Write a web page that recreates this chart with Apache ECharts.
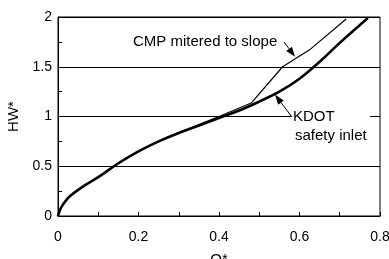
<!DOCTYPE html>
<html>
<head>
<meta charset="utf-8">
<script src="https://cdn.jsdelivr.net/npm/echarts@6/dist/echarts.min.js"></script>
<style>
  html, body { margin: 0; padding: 0; background: #fff; }
  #chart { width: 389px; height: 259px; }
</style>
</head>
<body>
<div id="chart"></div>
<script>
// KDOT safety inlet curve (Q*, HW*)
const kdotQ = [0, 0.006, 0.015, 0.03, 0.06, 0.1, 0.15, 0.2, 0.25, 0.3, 0.35, 0.4, 0.45, 0.5, 0.55, 0.6, 0.65, 0.7, 0.77]
const kdotHW = [0, 0.07, 0.13, 0.2, 0.29, 0.39, 0.53, 0.65, 0.75, 0.835, 0.91, 0.985, 1.06, 1.15, 1.25, 1.38, 1.55, 1.74, 1.99]
// CMP mitered to slope
const cmpQ = [0, 0.006, 0.015, 0.03, 0.06, 0.1, 0.15, 0.2, 0.25, 0.3, 0.35, 0.4, 0.48, 0.558, 0.625, 0.716]
const cmpHW = [0, 0.07, 0.13, 0.2, 0.29, 0.39, 0.53, 0.65, 0.75, 0.835, 0.92, 1.0, 1.135, 1.5, 1.67, 1.98]

const font = 'Liberation Sans, Arial, sans-serif'

const chart = echarts.init(document.getElementById('chart'))

const option = {
  animation: false,
  backgroundColor: '#fff',
  grid: {
    left: 58,
    right: 9,
    top: 17,
    bottom: 43,
    outerBoundsMode: 'none',
    containLabel: false,
    show: true,
    borderColor: '#000',
    borderWidth: 1
  },
  xAxis: {
    type: 'value',
    min: 0,
    max: 0.8,
    interval: 0.2,
    name: 'Q*',
    nameLocation: 'middle',
    nameGap: 36,
    nameTextStyle: { color: '#000', fontSize: 15, fontFamily: font },
    axisLine: { lineStyle: { color: '#000', width: 1 } },
    axisTick: { show: true, inside: true, length: 4, lineStyle: { color: '#000' } },
    minorTick: { show: true, splitNumber: 2, length: 4, lineStyle: { color: '#000' } },
    splitLine: { show: false },
    axisLabel: {
      color: '#000',
      fontSize: 14,
      fontFamily: font,
      margin: 14,
      formatter: (v) => (v === 0 ? '0' : String(+v.toFixed(1)))
    }
  },
  yAxis: {
    type: 'value',
    min: 0,
    max: 2,
    interval: 0.5,
    name: 'HW*',
    nameLocation: 'middle',
    nameGap: 37,
    nameTextStyle: { color: '#000', fontSize: 15, fontFamily: font },
    axisLine: { show: true, lineStyle: { color: '#000', width: 1 } },
    axisTick: { show: true, inside: true, length: 4, lineStyle: { color: '#000' } },
    minorTick: { show: true, splitNumber: 2, length: 4, lineStyle: { color: '#000' } },
    splitLine: { show: true, lineStyle: { color: '#000', width: 1 } },
    axisLabel: {
      color: '#000',
      fontSize: 14,
      fontFamily: font,
      margin: 6,
      formatter: (v) => String(v)
    }
  },
  series: [
    {
      name: 'CMP mitered to slope',
      type: 'line',
      data: cmpQ.map((q, i) => [q, cmpHW[i]]),
      showSymbol: false,
      lineStyle: { color: '#000', width: 1.2 },
      z: 2
    },
    {
      name: 'KDOT safety inlet',
      type: 'line',
      data: kdotQ.map((q, i) => [q, kdotHW[i]]),
      showSymbol: false,
      smooth: 0.4,
      lineStyle: { color: '#000', width: 2.6 },
      z: 3
    }
  ]
}
chart.setOption(option)

// annotation arrows: tip points sit on the curves
function arrow(from, to) {
  const dx = to[0] - from[0]
  const dy = to[1] - from[1]
  const len = Math.sqrt(dx * dx + dy * dy)
  const ux = dx / len
  const uy = dy / len
  const hl = 10
  const hw = 3.5
  const bx = to[0] - ux * hl
  const by = to[1] - uy * hl
  return [
    {
      type: 'line',
      z: 100,
      shape: { x1: from[0], y1: from[1], x2: bx, y2: by },
      style: { stroke: '#000', lineWidth: 1 }
    },
    {
      type: 'polygon',
      z: 100,
      shape: {
        points: [
          to,
          [bx - uy * hw, by + ux * hw],
          [bx + uy * hw, by - ux * hw]
        ]
      },
      style: { fill: '#000' }
    }
  ]
}

const cmpTip = chart.convertToPixel({ gridIndex: 0 }, [0.589, 1.6])
const kdotTip = chart.convertToPixel({ gridIndex: 0 }, [0.539, 1.22])

chart.setOption({
  graphic: [
    {
      type: 'rect',
      z: 90,
      shape: { x: 291, y: 108, width: 79, height: 36 },
      style: { fill: '#fff' }
    },
    {
      type: 'text',
      z: 100,
      x: 133,
      y: 42,
      style: { text: 'CMP mitered to slope', fill: '#000', font: '15px ' + font, textVerticalAlign: 'middle' }
    },
    {
      type: 'text',
      z: 100,
      x: 293,
      y: 117,
      style: { text: 'KDOT', fill: '#000', font: '15px ' + font, textVerticalAlign: 'middle' }
    },
    {
      type: 'text',
      z: 100,
      x: 295,
      y: 136,
      style: { text: 'safety inlet', fill: '#000', font: '15px ' + font, textVerticalAlign: 'middle' }
    },
    ...arrow([284, 42], cmpTip),
    ...arrow([292, 117], kdotTip)
  ]
})
</script>
</body>
</html>
